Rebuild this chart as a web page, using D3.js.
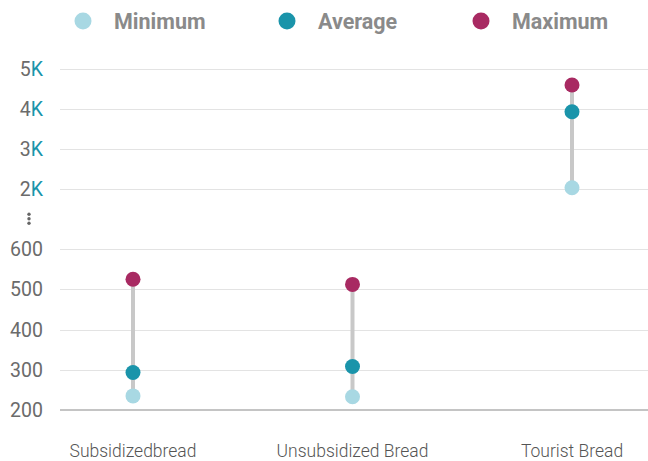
<!DOCTYPE html>
<html>
<head>
<meta charset="utf-8">
<script src="https://cdn.jsdelivr.net/npm/d3@7"></script>
<style>
  html, body { margin: 0; padding: 0; background: #fff; }
  svg { display: block; font-family: Roboto, "Noto Sans", sans-serif; }
</style>
</head>
<body>
<svg id="chart" width="648" height="461"></svg>
<script>
// Bread prices: minimum, average and maximum per category
const categories = ["Subsidizedbread", "Unsubsidized Bread", "Tourist Bread"];
const minimum = [235, 233, 2020];
const average = [293, 308, 3925];
const maximum = [525, 512, 4600];

const seriesNames = ["Minimum", "Average", "Maximum"];
const seriesColors = ["#a8d8e3", "#1a94aa", "#a82a62"];

// Broken value axis: a low segment and a high segment in thousands
const lowTicks = [200, 300, 400, 500, 600];
const highTicks = [2000, 3000, 4000, 5000];

const svg = d3.select("#chart");
const width = 648;
const left = 60;

const yLow = d3.scaleLinear().domain([200, 600]).range([410, 249]);
const yHigh = d3.scaleLinear().domain([2000, 5000]).range([188.5, 69]);
const y = v => (v >= 1000 ? yHigh(v) : yLow(v));

const x = d3.scalePoint().domain(categories).range([133, 572]);

// Gridlines and tick labels
const grid = svg.append("g");
lowTicks.concat(highTicks).forEach(t => {
  if (t === 200) return;
  grid.append("line")
    .attr("x1", left).attr("x2", width)
    .attr("y1", Math.round(y(t)) + 0.5).attr("y2", Math.round(y(t)) + 0.5)
    .attr("stroke", "#e3e3e3").attr("stroke-width", 1);
});

// Baseline of the axis
svg.append("line")
  .attr("x1", left).attr("x2", width)
  .attr("y1", y(200)).attr("y2", y(200))
  .attr("stroke", "#c4c4c4").attr("stroke-width", 2);

const labels = svg.append("g").attr("font-size", 19.5).attr("text-anchor", "end");
lowTicks.forEach(t => {
  labels.append("text")
    .attr("x", 43).attr("y", y(t)).attr("dy", "0.36em")
    .attr("fill", "#6b6b6b")
    .text(d3.format("d")(t));
});
highTicks.forEach(t => {
  const txt = labels.append("text")
    .attr("x", 43).attr("y", y(t)).attr("dy", "0.36em");
  txt.append("tspan").attr("fill", "#6b6b6b").text(t / 1000);
  txt.append("tspan").attr("fill", "#1a94aa").text("K");
});

// Break marker between the two segments
const breakY = (yHigh(2000) + yLow(600)) / 2;
svg.append("g").selectAll("circle")
  .data([-4.5, 0, 4.5])
  .join("circle")
  .attr("cx", 29).attr("cy", d => breakY + d)
  .attr("r", 1.7).attr("fill", "#666");

// Stems from minimum to maximum
const rows = categories.map((c, i) => ({ c, values: [minimum[i], average[i], maximum[i]] }));
svg.append("g").selectAll("line")
  .data(rows)
  .join("line")
  .attr("x1", d => x(d.c)).attr("x2", d => x(d.c))
  .attr("y1", d => y(d.values[0])).attr("y2", d => y(d.values[2]))
  .attr("stroke", "#c8c8c8").attr("stroke-width", 4);

// Dots
seriesNames.forEach((s, si) => {
  svg.append("g").selectAll("circle")
    .data(rows)
    .join("circle")
    .attr("cx", d => x(d.c)).attr("cy", d => y(d.values[si]))
    .attr("r", 7.5).attr("fill", seriesColors[si]);
});

// Category labels
svg.append("g").selectAll("text")
  .data(categories)
  .join("text")
  .attr("x", d => x(d)).attr("y", 457)
  .attr("text-anchor", "middle")
  .attr("font-size", 17.5).attr("font-weight", 300)
  .attr("fill", "#555")
  .text(d => d);

// Legend
const legendX = [83, 287, 481];
const legend = svg.append("g");
seriesNames.forEach((s, i) => {
  legend.append("circle")
    .attr("cx", legendX[i]).attr("cy", 21).attr("r", 8.5)
    .attr("fill", seriesColors[i]);
  legend.append("text")
    .attr("x", legendX[i] + 31).attr("y", 21).attr("dy", "0.36em")
    .attr("font-size", 21.5).attr("font-weight", 700)
    .attr("fill", "#8a8a8a")
    .text(s);
});
</script>
</body>
</html>
